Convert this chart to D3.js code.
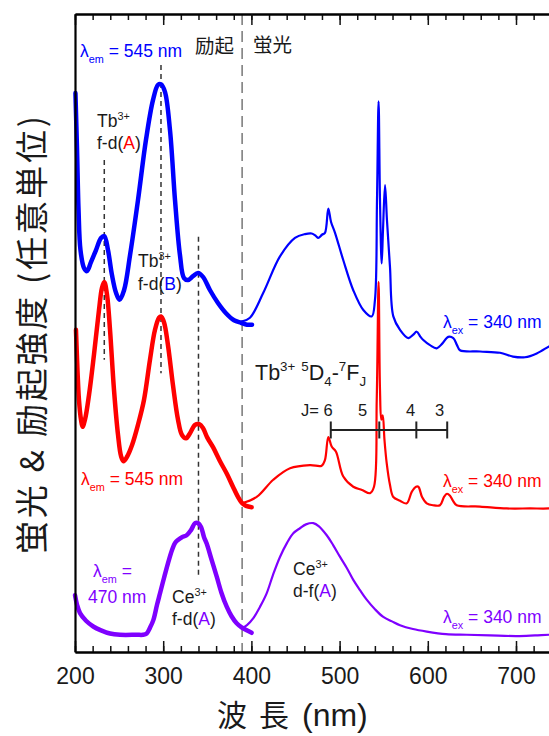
<!DOCTYPE html>
<html><head><meta charset="utf-8">
<script src="https://cdn.jsdelivr.net/npm/d3@7"></script>
<style>
html,body{margin:0;padding:0;background:#fff;overflow:hidden}
svg{display:block}
</style></head><body>
<svg id="chart" width="549" height="736"></svg>
<script>
// ---------------- data (wavelength nm, intensity a.u.) ----------------
const tbExcitation545 = [[200.5,87.6],[202.3,78.7],[204,69.3],[206.2,63],[210.2,60.2],[213.6,59.7],[218.1,61.1],[223.8,63],[229.5,64.9],[233.2,65.2],[237.4,63],[241.9,59.1],[246.5,56.3],[250.5,55.2],[255.6,56.7],[262.4,62.2],[271.4,70.8],[280.5,80.3],[288.4,86.5],[294.1,88.9],[297.5,89],[302,87.8],[307.7,81.8],[313.4,70.8],[319,62.2],[323.6,58.6],[328.1,58.3],[333.8,58.9],[339.5,59.4],[345.1,58.8],[353.1,56.7],[362.1,54.7],[371.2,53.1],[380.3,52],[388.2,51.6],[395,51.3],[400.7,51.3]];
const tbEmission340 = [[389,51.8],[398.4,52.4],[413.5,56.3],[432.4,62],[449.4,64.9],[460.8,65.5],[468.4,65.6],[473.2,65.2],[475.8,64.9],[480,65.4],[483.4,65.7],[487.2,69.5],[490.3,67.4],[494.8,65.7],[504.2,61.4],[515.5,56.7],[526.9,53.6],[536.4,52.6],[540.1,55.2],[542.4,70.8],[544.2,86.3],[545.8,70.8],[547.7,60.9],[549.2,66.1],[551.5,73.2],[553.7,67.7],[557.1,60.4],[560.9,52.6],[568.5,50.5],[577.9,49.2],[583.2,49.7],[587.4,50.2],[591.2,49.5],[594.9,48.9],[602.5,48.1],[610.1,47.6],[616.1,48.3],[623.2,49.4],[628.9,49.2],[633.1,48.1],[636.5,47.3],[659.2,47.1],[681.9,46.9],[696.6,46.3],[710.2,46.2],[723.5,46.8],[737.4,47.9],[744,48.4]];
const tbExcitation545b = [[201.1,50.5],[202.8,44.2],[204.5,39.5],[206.8,36.4],[208.5,35.3],[211.3,36.4],[215.9,40.3],[221.5,46.6],[227.2,53.6],[230.6,57.1],[233.2,58],[236.3,56],[239.7,50.5],[244.2,41.1],[248.8,34],[252.2,30.7],[255,29.9],[259,30.6],[264.6,32.4],[271.4,35.6],[278.2,39.5],[285,45.8],[290.7,50.5],[295.3,52.4],[297.5,52.6],[300.9,51.7],[305.4,48.1],[311.1,41.8],[316.8,36.4],[321.3,34],[325.9,33.5],[330.4,34.3],[336.1,35.6],[340.9,35.7],[345.1,35.1],[350,33.6],[356.5,32.1],[364.4,29.9],[372.3,27.9],[379.1,25.9],[384.8,24.3],[389,23.4],[393.9,22.9],[400.3,22.7]];
const tbEmission340b = [[389,23.3],[406,24.3],[424.8,27],[443.8,28.8],[466.4,29.3],[479.7,29.2],[483.4,30.1],[487.2,33.7],[491,32.2],[495.9,31.4],[504.2,27.5],[515.5,25.9],[525.4,25.4],[534.5,24.9],[539,25.9],[542.1,39.5],[544.2,58],[545.8,41.1],[547.3,36.4],[548.9,37.1],[550.9,33.2],[553.4,29.6],[557.1,26.2],[560.9,24.3],[568.5,23.7],[576.1,23.3],[581.8,25.1],[586.7,25.9],[589.3,25.9],[593.5,24.3],[598.8,23.3],[605.9,23],[613.8,23],[618.4,24.3],[621.8,24.8],[625.2,24.5],[628.6,23.7],[632.8,23],[659.2,22.8],[689.5,22.5],[715.9,22.5],[737.4,22.5],[744,22.6]];
const ceExcitation470 = [[200,8.9],[202.3,7.4],[205.7,6.1],[212.5,4.9],[220.7,4],[229.5,3.4],[239.7,2.9],[251,2.7],[270,2.7],[277.1,2.7],[281.3,2.9],[285,3.8],[288.8,5],[293,7.4],[296.4,9.2],[300.9,11.6],[305.4,13.9],[310,16],[313.4,17.1],[317.1,17.6],[321.3,18],[326.6,18.3],[331.5,19.1],[336.1,20.2],[339.5,20.2],[342.9,19.6],[346.3,18],[349.3,17],[355,14.4],[360.7,11.8],[366,9.3],[372,7.1],[377.5,5.6],[383.3,4.5],[388.5,3.9],[394.7,3.4],[400.3,3]];
const ceEmission340 = [[389,3.7],[395,4.2],[402.2,5.3],[409.8,7.1],[417.3,9.2],[424.5,12.1],[432.4,14.9],[440.4,17.1],[447.5,18.6],[455.1,19.4],[461.9,20],[470.2,20.2],[476.6,19.7],[485.4,18.3],[492.5,16.8],[500.5,14.9],[508,13.2],[515.5,11.3],[523.1,9.7],[530.7,8.2],[540.1,6.7],[549.5,5.5],[559.4,4.8],[568.5,4.2],[583.2,3.6],[598.8,3.2],[620.6,2.8],[644.1,2.7],[670.5,2.6],[700.8,2.5],[721.5,2.6],[737.4,2.7],[744,2.7]];

const xMajorTicks = [200, 300, 400, 500, 600, 700];
const xMinorTicks = d3.range(200, 751, 20);
const peakMarkers = [233.2, 297.5, 340];       // Tb3+ f-d(A), f-d(B), Ce3+ f-d(A)
const splitLine = 389.5;                       // 励起 | 蛍光
const jLevels = [490, 545, 587, 622];          // 5D4-7FJ, J = 6,5,4,3
const jLabels = ["J= 6", "5", "4", "3"];

// ---------------- layout ----------------
const svg = d3.select("#chart");
const L = 75, T = 14, B = 652;
const x = d3.scaleLinear().domain([200, 750]).range([L, L + 550 * 0.882]);
const y = d3.scaleLinear().domain([0, 100]).range([B, T]);

const BLUE = "#0000ff", RED = "#ff0000", PURPLE = "#7f00ff", INK = "#1a1a1a";
const SANS = "'Liberation Sans', Arial, Helvetica, sans-serif";
const CJK = "'Noto Sans CJK JP', 'Noto Sans CJK SC', sans-serif";

// dashed guides
svg.append("line").attr("x1", x(splitLine)).attr("x2", x(splitLine))
  .attr("y1", T).attr("y2", B)
  .attr("stroke", "#888").attr("stroke-width", 1.7).attr("stroke-dasharray", "11,6");

const guideSpans = [[77.1, 45.8], [92, 43.7], [65.1, 11.8]];
peakMarkers.forEach((w, i) => {
  svg.append("line").attr("x1", x(w)).attr("x2", x(w))
    .attr("y1", y(guideSpans[i][0])).attr("y2", y(guideSpans[i][1]))
    .attr("stroke", "#333").attr("stroke-width", 1.5).attr("stroke-dasharray", "5,4");
});

// curves
const line = d3.line().x(d => x(d[0])).y(d => y(d[1])).curve(d3.curveCatmullRom.alpha(0.5));
function curve(data, color, w) {
  svg.append("path").datum(data).attr("d", line)
    .attr("fill", "none").attr("stroke", color).attr("stroke-width", w)
    .attr("stroke-linejoin", "round").attr("stroke-linecap", "round");
}
curve(ceEmission340, PURPLE, 2.2);
curve(tbEmission340b, RED, 2.2);
curve(tbEmission340, BLUE, 2.2);
curve(ceExcitation470, PURPLE, 4.5);
curve(tbExcitation545b, RED, 4.5);
curve(tbExcitation545, BLUE, 4.5);

// J bar
const barY = y(34.8);
svg.append("line").attr("x1", x(jLevels[0])).attr("x2", x(jLevels[jLevels.length - 1]))
  .attr("y1", barY).attr("y2", barY).attr("stroke", "#222").attr("stroke-width", 2);
svg.selectAll(".jt").data(jLevels).enter().append("line")
  .attr("x1", d => x(d)).attr("x2", d => x(d))
  .attr("y1", barY - 8.5).attr("y2", barY + 8.5)
  .attr("stroke", "#222").attr("stroke-width", 2);

// axes
const gB = svg.append("g").attr("transform", `translate(0,${B})`);
gB.call(d3.axisBottom(x).tickValues(xMinorTicks).tickSizeInner(-6).tickSizeOuter(0).tickFormat(""));
const gB2 = svg.append("g").attr("transform", `translate(0,${B})`);
gB2.call(d3.axisBottom(x).tickValues(xMajorTicks).tickSizeInner(-11).tickSizeOuter(0).tickPadding(16).tickFormat(d3.format("d")));
const gT = svg.append("g").attr("transform", `translate(0,${T})`);
gT.call(d3.axisTop(x).tickValues(xMinorTicks).tickSizeInner(-6).tickSizeOuter(0).tickFormat(""));
const gT2 = svg.append("g").attr("transform", `translate(0,${T})`);
gT2.call(d3.axisTop(x).tickValues(xMajorTicks).tickSizeInner(-11).tickSizeOuter(0).tickFormat(""));
const gL = svg.append("g").attr("transform", `translate(${L},0)`);
gL.call(d3.axisLeft(y).tickValues([]).tickSizeOuter(0));

svg.selectAll(".domain").attr("stroke", "#000").attr("stroke-width", 2.2);
svg.selectAll(".tick line").attr("stroke", "#111").attr("stroke-width", 1.5);
gB2.selectAll("text").attr("font-family", SANS).attr("font-size", 23).attr("fill", INK);

// rich text helper
function rich(xp, yp, parts, size, fill, family) {
  const t = svg.append("text").attr("x", xp).attr("y", yp)
    .attr("font-family", family || SANS).attr("font-size", size).attr("fill", fill || INK);
  let shift = 0;
  parts.forEach(p => {
    const o = typeof p === "string" ? { t: p } : p;
    let target = 0, fs = size;
    if (o.s === "sup") { target = -size * 0.42; fs = size * 0.62; }
    if (o.s === "sub") { target = size * 0.3; fs = size * 0.62; }
    if (o.s === "lsub") { target = size * 0.33; fs = size * 0.62; }
    const ts = t.append("tspan").attr("font-size", fs).attr("dy", target - shift).text(o.t);
    if (o.f) ts.attr("fill", o.f);
    shift = target;
  });
  return t;
}

// labels
const LS = 17.5;
rich(80, 57, ["λ", { t: "em", s: "lsub" }, " = 545 nm"], LS, BLUE);
rich(81, 485, ["λ", { t: "em", s: "lsub" }, " = 545 nm"], LS, RED);
rich(93, 577, ["λ", { t: "em", s: "lsub" }, " ="], LS, PURPLE);
rich(88, 603, ["470 nm"], LS, PURPLE);
rich(443, 328, ["λ", { t: "ex", s: "lsub" }, " = 340 nm"], LS, BLUE);
rich(443, 487, ["λ", { t: "ex", s: "lsub" }, " = 340 nm"], LS, RED);
rich(443, 623, ["λ", { t: "ex", s: "lsub" }, " = 340 nm"], LS, PURPLE);

rich(195, 53, ["励起"], 19.5, INK, CJK);
rich(253, 52, ["蛍光"], 19.5, INK, CJK);

const SS = 17.5;
rich(97, 127, ["Tb", { t: "3+", s: "sup" }], SS);
rich(97, 149, ["f-d(", { t: "A", f: RED }, ")"], SS);
rich(138, 267, ["Tb", { t: "3+", s: "sup" }], SS);
rich(138, 290, ["f-d(", { t: "B", f: BLUE }, ")"], SS);
rich(172, 603, ["Ce", { t: "3+", s: "sup" }], SS);
rich(172, 625, ["f-d(", { t: "A", f: PURPLE }, ")"], SS);
rich(293, 575, ["Ce", { t: "3+", s: "sup" }], SS);
rich(293, 597, ["d-f(", { t: "A", f: PURPLE }, ")"], SS);

rich(255, 380, ["Tb", { t: "3+", s: "sup" }, " ", { t: "5", s: "sup" }, "D", { t: "4", s: "sub" }, "-", { t: "7", s: "sup" }, "F", { t: "J", s: "sub" }], 21.5);

const jx = [301, 358, 406, 435];
jLabels.forEach((s, i) => rich(jx[i], 416, [s], 16.5));

// axis titles
const xt = svg.append("text").attr("y", 726).attr("fill", INK);
xt.append("tspan").attr("x", 217).attr("font-family", CJK).attr("font-size", 30).text("波");
xt.append("tspan").attr("x", 259).attr("font-family", CJK).attr("font-size", 30).text("長");
xt.append("tspan").attr("x", 302).attr("font-family", SANS).attr("font-size", 32).text("(nm)");

svg.append("text").attr("transform", "translate(44,335) rotate(-90)")
  .attr("text-anchor", "middle")
  .attr("font-family", CJK).attr("font-size", 33).attr("fill", INK)
  .attr("textLength", 438).attr("lengthAdjust", "spacing")
  .text("蛍光 & 励起強度 (任意単位)");
</script>
</body></html>
